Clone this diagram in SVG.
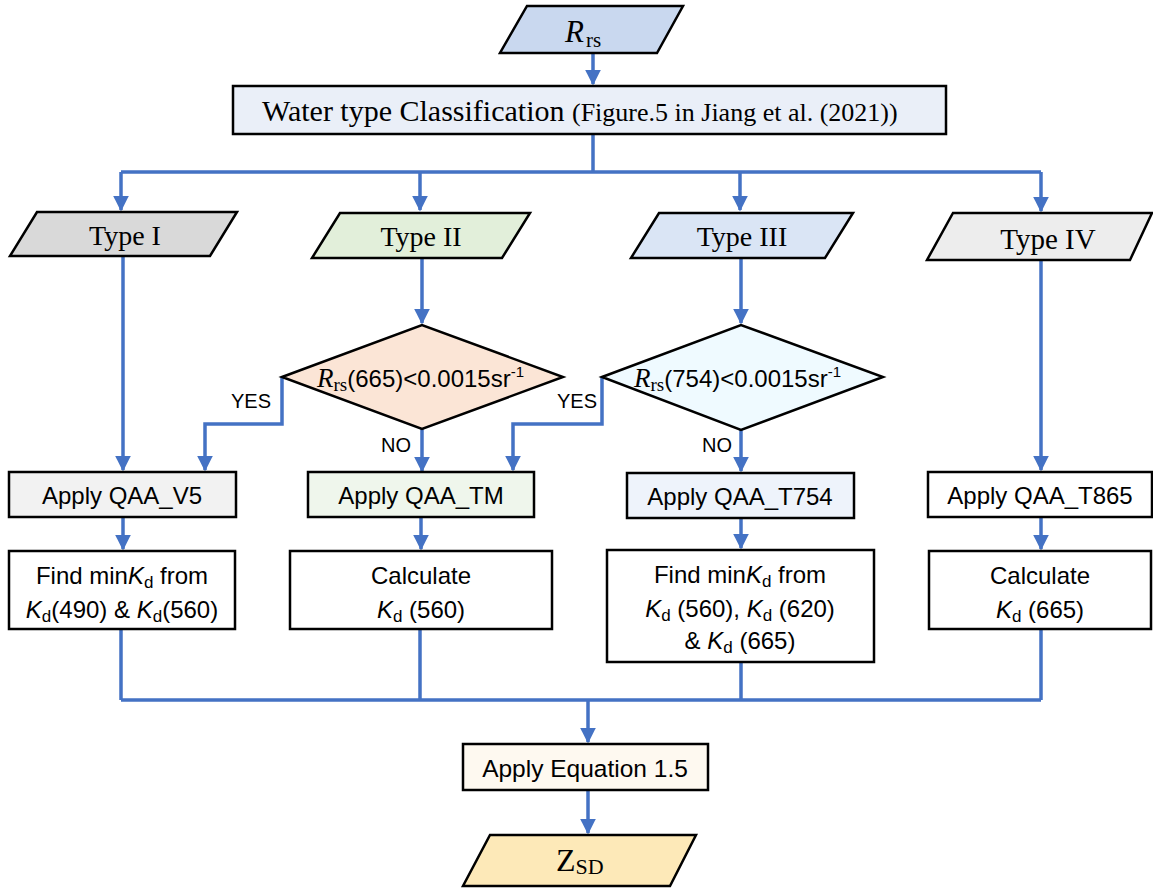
<svg xmlns="http://www.w3.org/2000/svg" width="1153" height="891" viewBox="0 0 1153 891">
<defs>
<marker id="ah" viewBox="0 0 10 10" refX="9" refY="5" markerWidth="4.5" markerHeight="4.5" markerUnits="strokeWidth" orient="auto"><path d="M0,0 L10,5 L0,10 z" fill="#4472c4"/></marker>
<style>
.sh{stroke:#000;stroke-width:2.5}
.ln{fill:none;stroke:#4472c4;stroke-width:3.5}
.ar{fill:none;stroke:#4472c4;stroke-width:3.5;marker-end:url(#ah)}
.sf{font-family:"Liberation Serif","Times New Roman",serif;fill:#000}
.ss{font-family:"Liberation Sans",Arial,sans-serif;fill:#000}
</style>
</defs>
<rect width="1153" height="891" fill="#fff"/>
<g id="connectors">
<path class="ar" d="M593,53 V84"/>
<path class="ln" d="M593,134 V172 M121,172 H1041"/>
<path class="ar" d="M121,172 V210"/>
<path class="ar" d="M420,172 V210"/>
<path class="ar" d="M740,172 V210"/>
<path class="ar" d="M1041,172 V211"/>
<path class="ar" d="M123,256 V470"/>
<path class="ar" d="M422,258 V323"/>
<path class="ar" d="M741,258 V323"/>
<path class="ar" d="M1041,259 V470"/>
<path class="ar" d="M282,377 V424 H205 V470"/>
<path class="ar" d="M602,377 V424 H513 V470"/>
<path class="ar" d="M422,429 V471"/>
<path class="ar" d="M741,430 V471"/>
<path class="ar" d="M123,517 V549"/>
<path class="ar" d="M421,517 V549"/>
<path class="ar" d="M741,518 V548"/>
<path class="ar" d="M1041,517 V549"/>
<path class="ln" d="M121,629 V700 M420,629 V700 M741,662 V700 M1041,629 V700 M121,700 H1041"/>
<path class="ar" d="M588,700 V742"/>
<path class="ar" d="M588,790 V833"/>
</g>
<g id="n_rrs">
<polygon class="sh" points="527,6 683,6 657,53 500,53" fill="#c9d8ef"/>
<text class="sf" x="565" y="42" font-size="31" font-style="italic">R</text><text class="sf" x="586" y="47" font-size="21">rs</text>
</g>
<g id="n_class">
<rect class="sh" x="233" y="86" width="713" height="48" fill="#eaeff8"/>
<text class="sf" x="262" y="121" font-size="30">Water type Classification <tspan font-size="26">(Figure.5 in Jiang et al. (2021))</tspan></text>
</g>
<g id="n_t1">
<polygon class="sh" points="37,212 237,212 210,256 10,256" fill="#d9d9d9"/>
<text class="sf" x="125" y="245" font-size="28" text-anchor="middle">Type I</text>
</g>
<g id="n_t2">
<polygon class="sh" points="340,213 530,213 502,258 312,258" fill="#e2efda"/>
<text class="sf" x="421" y="246" font-size="28" text-anchor="middle">Type II</text>
</g>
<g id="n_t3">
<polygon class="sh" points="659,213 853,213 825,258 631,258" fill="#dae5f5"/>
<text class="sf" x="742" y="246" font-size="28" text-anchor="middle">Type III</text>
</g>
<g id="n_t4">
<polygon class="sh" points="953,213 1152,213 1130,260 927,260" fill="#ededed"/>
<text class="sf" x="1048" y="249" font-size="29" text-anchor="middle">Type IV</text>
</g>
<g id="n_d1">
<polygon class="sh" points="282,377 422,325 563,377 422,429" fill="#fbe5d6"/>
<text class="ss" x="317" y="387" font-size="24"><tspan font-family="Liberation Serif,serif" font-style="italic" font-size="27">R</tspan><tspan font-family="Liberation Serif,serif" font-size="19" dy="4">rs</tspan><tspan dy="-4">(665)&lt;0.0015sr</tspan><tspan font-size="15" dy="-10">-1</tspan></text>
</g>
<g id="n_d2">
<polygon class="sh" points="602,377 741,325 883,377 741,430" fill="#effaff"/>
<text class="ss" x="634" y="387" font-size="24"><tspan font-family="Liberation Serif,serif" font-style="italic" font-size="27">R</tspan><tspan font-family="Liberation Serif,serif" font-size="19" dy="4">rs</tspan><tspan dy="-4">(754)&lt;0.0015sr</tspan><tspan font-size="15" dy="-10">-1</tspan></text>
</g>
<g id="labels">
<text class="ss" x="251" y="408" font-size="20" text-anchor="middle">YES</text>
<text class="ss" x="396" y="452" font-size="20" text-anchor="middle">NO</text>
<text class="ss" x="577" y="408" font-size="20" text-anchor="middle">YES</text>
<text class="ss" x="717" y="452" font-size="20" text-anchor="middle">NO</text>
</g>
<g id="n_v5">
<rect class="sh" x="9" y="472" width="227" height="45" fill="#f2f2f2"/>
<text class="ss" x="122" y="504" font-size="24" text-anchor="middle">Apply QAA_V5</text>
</g>
<g id="n_tm">
<rect class="sh" x="308" y="472" width="226" height="45" fill="#eff6ec"/>
<text class="ss" x="421" y="504" font-size="24" text-anchor="middle">Apply QAA_TM</text>
</g>
<g id="n_t754">
<rect class="sh" x="627" y="473" width="227" height="45" fill="#eef3fb"/>
<text class="ss" x="740" y="505" font-size="24" text-anchor="middle">Apply QAA_T754</text>
</g>
<g id="n_t865">
<rect class="sh" x="928" y="472" width="224" height="45" fill="#fff"/>
<text class="ss" x="1040" y="504" font-size="24" text-anchor="middle">Apply QAA_T865</text>
</g>
<g id="n_k1">
<rect class="sh" x="9" y="551" width="226" height="78" fill="#fff"/>
<text class="ss" x="122" y="584" font-size="24" text-anchor="middle">Find min<tspan font-style="italic">K</tspan><tspan font-size="17" dy="4">d</tspan><tspan dy="-4"> from</tspan></text>
<text class="ss" x="122" y="618" font-size="24" text-anchor="middle"><tspan font-style="italic">K</tspan><tspan font-size="17" dy="4">d</tspan><tspan dy="-4">(490) &amp; </tspan><tspan font-style="italic">K</tspan><tspan font-size="17" dy="4">d</tspan><tspan dy="-4">(560)</tspan></text>
</g>
<g id="n_k2">
<rect class="sh" x="290" y="551" width="262" height="78" fill="#fff"/>
<text class="ss" x="421" y="584" font-size="24" text-anchor="middle">Calculate</text>
<text class="ss" x="421" y="618" font-size="24" text-anchor="middle"><tspan font-style="italic">K</tspan><tspan font-size="17" dy="4">d</tspan><tspan dy="-4"> (560)</tspan></text>
</g>
<g id="n_k3">
<rect class="sh" x="607" y="550" width="267" height="112" fill="#fff"/>
<text class="ss" x="740" y="583" font-size="24" text-anchor="middle">Find min<tspan font-style="italic">K</tspan><tspan font-size="17" dy="4">d</tspan><tspan dy="-4"> from</tspan></text>
<text class="ss" x="740" y="617" font-size="24" text-anchor="middle"><tspan font-style="italic">K</tspan><tspan font-size="17" dy="4">d</tspan><tspan dy="-4"> (560), </tspan><tspan font-style="italic">K</tspan><tspan font-size="17" dy="4">d</tspan><tspan dy="-4"> (620)</tspan></text>
<text class="ss" x="740" y="649" font-size="24" text-anchor="middle">&amp; <tspan font-style="italic">K</tspan><tspan font-size="17" dy="4">d</tspan><tspan dy="-4"> (665)</tspan></text>
</g>
<g id="n_k4">
<rect class="sh" x="929" y="551" width="222" height="78" fill="#fff"/>
<text class="ss" x="1040" y="584" font-size="24" text-anchor="middle">Calculate</text>
<text class="ss" x="1040" y="618" font-size="24" text-anchor="middle"><tspan font-style="italic">K</tspan><tspan font-size="17" dy="4">d</tspan><tspan dy="-4"> (665)</tspan></text>
</g>
<g id="n_eq">
<rect class="sh" x="463" y="744" width="245" height="46" fill="#fef9f0"/>
<text class="ss" x="585" y="777" font-size="24.5" text-anchor="middle">Apply Equation 1.5</text>
</g>
<g id="n_zsd">
<polygon class="sh" points="490,835 696,835 670,886 463,886" fill="#fde9b8"/>
<text class="sf" x="556" y="871" font-size="32">Z<tspan font-size="22" dy="3">SD</tspan></text>
</g>
</svg>
